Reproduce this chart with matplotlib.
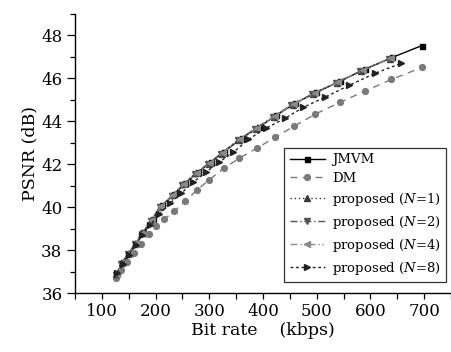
import matplotlib
matplotlib.use("Agg")
import matplotlib.pyplot as plt
from matplotlib.ticker import MultipleLocator

plt.rcParams['font.family'] = ['DejaVu Serif']
plt.rcParams['mathtext.fontset'] = 'dejavuserif'

jmvm_x = [129, 139, 152, 164, 177, 196, 212, 235, 255, 279, 303, 327, 360, 392, 425, 460, 499, 543, 589, 641, 696]
jmvm_y = [36.93, 37.44, 37.86, 38.33, 38.84, 39.44, 40.09, 40.60, 41.12, 41.63, 42.09, 42.56, 43.21, 43.72, 44.28, 44.84, 45.35, 45.86, 46.42, 46.98, 47.53]

dm_x = [126, 135, 146, 159, 172, 187, 201, 216, 235, 255, 277, 299, 327, 356, 388, 423, 458, 497, 543, 589, 639, 696]
dm_y = [36.70, 37.07, 37.44, 37.86, 38.28, 38.74, 39.12, 39.44, 39.81, 40.28, 40.79, 41.26, 41.81, 42.28, 42.74, 43.26, 43.77, 44.33, 44.88, 45.40, 45.95, 46.51]

n1_x = [127, 137, 149, 162, 175, 192, 209, 231, 251, 275, 299, 323, 355, 387, 420, 455, 493, 537, 583, 636]
n1_y = [36.88, 37.38, 37.82, 38.28, 38.78, 39.38, 40.02, 40.55, 41.06, 41.57, 42.03, 42.50, 43.15, 43.66, 44.22, 44.78, 45.28, 45.80, 46.36, 46.92]

n2_x = [126, 136, 148, 161, 174, 191, 208, 230, 250, 273, 297, 321, 353, 385, 418, 453, 491, 535, 581, 634]
n2_y = [36.86, 37.36, 37.80, 38.26, 38.76, 39.36, 40.00, 40.52, 41.04, 41.55, 42.01, 42.48, 43.12, 43.64, 44.20, 44.76, 45.26, 45.78, 46.34, 46.90]

n4_x = [128, 138, 150, 163, 176, 194, 210, 233, 253, 277, 301, 325, 357, 389, 422, 457, 496, 540, 586, 638]
n4_y = [36.90, 37.40, 37.84, 38.30, 38.80, 39.40, 40.05, 40.57, 41.08, 41.59, 42.05, 42.52, 43.17, 43.68, 44.24, 44.80, 45.31, 45.82, 46.38, 46.94]

n8_x = [129, 139, 150, 163, 175, 190, 207, 227, 248, 270, 294, 318, 345, 373, 405, 441, 475, 515, 560, 608, 657]
n8_y = [36.93, 37.35, 37.77, 38.23, 38.70, 39.16, 39.67, 40.19, 40.65, 41.16, 41.63, 42.09, 42.56, 43.16, 43.67, 44.14, 44.65, 45.12, 45.67, 46.23, 46.70]

labels = ['JMVM', 'DM', r'proposed ($N$=1)', r'proposed ($N$=2)',
          r'proposed ($N$=4)', r'proposed ($N$=8)']

fig = plt.figure(figsize=(4.51, 3.52), dpi=100)
ax = fig.add_axes([75/451, 59/352, 376/451, 279/352])

ms = 4.2
ax.plot(jmvm_x, jmvm_y, color='black', ls='-', lw=1.0, marker='s', ms=ms-0.6, label=labels[0])
ax.plot(dm_x, dm_y, color='#7a7a7a', ls=(0, (5, 4)), lw=1.0, marker='o', ms=ms, label=labels[1])
ax.plot(n1_x, n1_y, color='#3a3a3a', ls=(0, (1, 2)), lw=1.0, marker='^', ms=ms, label=labels[2])
ax.plot(n2_x, n2_y, color='#555555', ls=(0, (5, 2, 1, 2)), lw=1.0, marker='v', ms=ms, label=labels[3])
ax.plot(n4_x, n4_y, color='#8a8a8a', ls=(0, (5, 2, 1, 2, 1, 2)), lw=1.0, marker='<', ms=ms, label=labels[4])
ax.plot(n8_x, n8_y, color='#222222', ls=(0, (2, 2)), lw=1.0, marker='>', ms=ms, label=labels[5])

ax.set_xlim(50, 750)
ax.set_ylim(36, 49)
ax.xaxis.set_major_locator(MultipleLocator(100))
ax.xaxis.set_minor_locator(MultipleLocator(50))
ax.yaxis.set_major_locator(MultipleLocator(2))
ax.yaxis.set_minor_locator(MultipleLocator(1))
ax.set_xticks([100, 200, 300, 400, 500, 600, 700])

for s in ['top', 'right']:
    ax.spines[s].set_visible(False)
for s in ['left', 'bottom']:
    ax.spines[s].set_linewidth(1.0)

ax.tick_params(axis='both', which='major', direction='out', length=6, width=0.9, labelsize=12, pad=3)
ax.tick_params(axis='both', which='minor', direction='out', length=3.5, width=0.9)
ax.tick_params(axis='x', which='both', length=4.5)

ax.set_xlabel('Bit rate    (kbps)', fontsize=12.5, labelpad=1)
ax.set_ylabel('PSNR (dB)', fontsize=12.5, labelpad=2)

leg = ax.legend(loc='lower right', bbox_to_anchor=(0.987, 0.039), borderaxespad=0,
                fontsize=9.5, frameon=True, fancybox=False, edgecolor='black',
                handlelength=2.7, labelspacing=0.45, borderpad=0.4, handletextpad=0.5)
leg.get_frame().set_linewidth(0.9)

fig.savefig('out.png', dpi=100)
